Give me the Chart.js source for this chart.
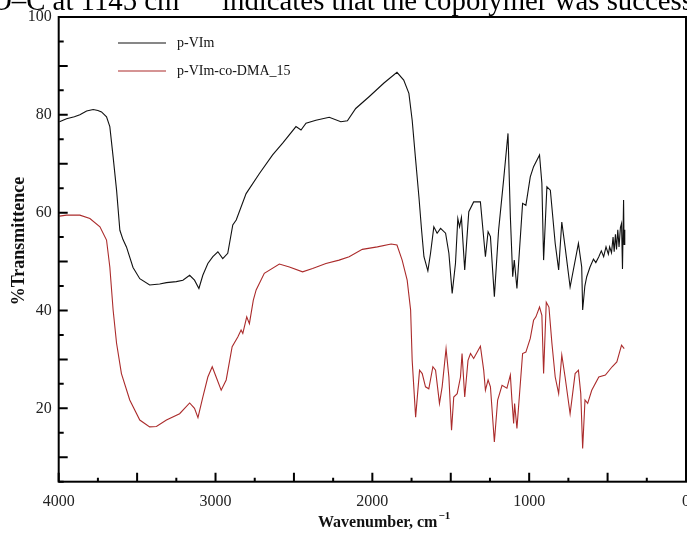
<!DOCTYPE html>
<html>
<head>
<meta charset="utf-8">
<script src="https://cdn.jsdelivr.net/npm/chart.js@4.4.1/dist/chart.umd.min.js"></script>
<style>
  html, body { margin: 0; padding: 0; background: #fff; overflow: hidden; }
  #wrap { width: 687px; height: 534px; overflow: hidden; position: relative; }
  #wrap canvas { position: absolute; left: 0; top: 0; }
</style>
</head>
<body>
<div id="wrap"><canvas id="ftir" width="700" height="534"></canvas></div>
<script>
// FTIR spectra - p-VIm vs p-VIm-co-DMA_15
const seriesNames = ['p-VIm', 'p-VIm-co-DMA_15'];
const seriesColors = ['#111111', '#ab2b2b'];
const xTickLabels = [4000, 3000, 2000, 1000, 0];
const yTickLabels = [20, 40, 60, 80, 100];

// p-VIm (black)
const wnVIm = [3995, 3950, 3900, 3865, 3822, 3780, 3750, 3727, 3695, 3674, 3653, 3631, 3610, 3590, 3568, 3526, 3483, 3420, 3356, 3313,
  3250, 3208, 3165, 3134, 3106, 3081, 3049, 3017, 2985, 2954, 2922, 2890, 2868, 2805, 2720, 2636, 2572, 2487, 2455, 2423,
  2360, 2275, 2201, 2159, 2106, 2021, 1926, 1843, 1800, 1767, 1746, 1724, 1703, 1686, 1671, 1646, 1629, 1608, 1587, 1565,
  1533, 1512, 1491, 1470, 1455, 1444, 1432, 1411, 1385, 1354, 1311, 1279, 1262, 1247, 1222, 1195, 1163, 1135, 1120, 1105,
  1095, 1078, 1042, 1021, 993, 972, 934, 919, 908, 887, 865, 834, 812, 792, 771, 739, 686, 665, 659, 645,
  633, 612, 590, 575, 556, 540, 525, 510, 495, 487, 475, 465, 458, 450, 443, 435, 427, 418, 411, 405,
  398, 395, 392, 389];
const tVIm = [78.6, 79.2, 79.6, 80.0, 80.8, 81.1, 80.9, 80.6, 79.6, 77.6, 71.4, 64.6, 56.4, 54.5, 53.0, 48.8, 46.5, 45.2, 45.4, 45.7,
  45.9, 46.2, 47.2, 46.2, 44.5, 47.2, 49.6, 51.0, 52.0, 50.6, 51.7, 57.5, 58.5, 63.9, 68.0, 71.8, 74.2, 77.6, 76.9, 78.3,
  78.9, 79.5, 78.6, 78.8, 81.3, 83.7, 86.5, 88.7, 87.1, 84.4, 78.9, 70.8, 63.2, 56.4, 51.0, 48.1, 51.7, 57.1, 55.8, 56.8,
  55.8, 51.7, 43.5, 49.6, 58.8, 57.1, 59.0, 48.3, 60.2, 62.2, 62.2, 51.0, 56.1, 55.1, 42.8, 56.4, 66.7, 76.2, 59.2, 46.9,
  50.3, 44.5, 61.9, 61.5, 67.3, 69.4, 71.8, 66.0, 50.3, 65.3, 64.6, 53.7, 48.3, 58.1, 53.0, 44.8, 53.7, 48.9, 40.1, 45.0,
  46.9, 48.9, 50.5, 49.8, 51.0, 52.2, 51.0, 53.0, 51.5, 53.0, 51.8, 55.0, 52.0, 55.6, 52.5, 56.5, 53.0, 57.0, 57.8, 48.5,
  62.6, 53.5, 56.5, 55.8];

// p-VIm-co-DMA_15 (red)
const wnDMA = [3995, 3950, 3865, 3801, 3737, 3695, 3674, 3653, 3631, 3600, 3547, 3483, 3420, 3377, 3313, 3229, 3165, 3134, 3112, 3081,
  3049, 3021, 2996, 2964, 2932, 2894, 2858, 2837, 2826, 2801, 2784, 2759, 2741, 2689, 2593, 2529, 2445, 2381, 2296, 2212,
  2148, 2064, 1968, 1880, 1843, 1810, 1778, 1756, 1746, 1724, 1699, 1682, 1661, 1640, 1614, 1597, 1572, 1555, 1530, 1512,
  1495, 1481, 1459, 1438, 1428, 1411, 1390, 1374, 1354, 1311, 1290, 1279, 1262, 1247, 1222, 1201, 1173, 1142, 1120, 1110,
  1099, 1093, 1078, 1042, 1021, 993, 972, 957, 934, 919, 908, 891, 874, 855, 834, 812, 792, 771, 739, 707,
  686, 671, 659, 644, 627, 601, 556, 514, 471, 441, 411, 394];
const tDMA = [59.3, 59.5, 59.5, 58.8, 57.1, 54.4, 48.9, 40.1, 33.3, 27.1, 21.7, 17.6, 16.2, 16.3, 17.6, 18.9, 21.1, 20.0, 18.1, 22.3,
  26.4, 28.5, 26.4, 23.7, 25.8, 32.6, 34.6, 36.0, 35.3, 38.7, 37.3, 42.1, 44.2, 47.6, 49.5, 48.9, 47.9, 48.6, 49.6, 50.3,
  51.0, 52.5, 53.0, 53.6, 53.4, 50.3, 46.2, 40.1, 29.8, 18.2, 27.8, 27.1, 24.4, 24.0, 28.5, 27.8, 21.0, 24.4, 32.2, 26.4,
  15.5, 22.3, 23.0, 26.4, 31.2, 22.3, 29.8, 31.2, 30.2, 32.7, 27.8, 23.7, 25.8, 24.4, 13.1, 21.7, 24.7, 24.1, 26.8, 21.7,
  16.9, 21.0, 15.9, 31.2, 31.5, 34.3, 38.0, 38.7, 40.7, 39.0, 27.1, 41.7, 40.7, 33.3, 26.4, 23.0, 30.9, 26.4, 18.9, 27.1,
  27.8, 23.0, 11.8, 21.7, 21.0, 23.7, 26.4, 26.8, 28.5, 29.5, 32.9, 32.2];

const toPoints = (xs, ys) => xs.map((v, i) => ({ x: v, y: ys[i] }));
const SERIF = '"Liberation Serif", "Times New Roman", serif';

// --- frame, inward ticks, legend, captions ---
const decor = {
  id: 'decor',
  afterDraw(chart) {
    const { ctx, chartArea: a, scales: { x, y } } = chart;
    ctx.save();
    ctx.strokeStyle = '#000';
    ctx.lineWidth = 2;
    ctx.strokeRect(a.left, a.top, a.right - a.left, a.bottom - a.top);

    ctx.beginPath();
    x.ticks.forEach(t => {
      const px = x.getPixelForValue(t.value);
      const len = t.value % 500 === 0 ? 9 : 4;
      ctx.moveTo(px, a.bottom);
      ctx.lineTo(px, a.bottom - len);
    });
    y.ticks.forEach(t => {
      const py = y.getPixelForValue(t.value);
      const len = t.value % 10 === 0 ? 9 : 5;
      ctx.moveTo(a.left, py);
      ctx.lineTo(a.left + len, py);
    });
    ctx.stroke();

    // legend, top-left inside the plot
    ctx.font = '14px ' + SERIF;
    ctx.textBaseline = 'middle';
    chart.data.datasets.forEach((ds, i) => {
      const ly = 43 + i * 28;
      ctx.strokeStyle = ds.borderColor;
      ctx.lineWidth = 1.2;
      ctx.beginPath();
      ctx.moveTo(118, ly);
      ctx.lineTo(166, ly);
      ctx.stroke();
      ctx.fillStyle = '#111';
      ctx.fillText(ds.label, 177, ly);
    });

    // axis titles
    ctx.fillStyle = '#111';
    ctx.font = 'bold 16px ' + SERIF;
    ctx.textBaseline = 'alphabetic';
    ctx.textAlign = 'left';
    const xt = 'Wavenumber, cm';
    ctx.fillText(xt, 318, 527);
    const w = ctx.measureText(xt).width;
    ctx.font = 'bold 11px ' + SERIF;
    ctx.fillText('\u22121', 318 + w + 1, 519);

    ctx.save();
    ctx.translate(19, 241);
    ctx.rotate(-Math.PI / 2);
    ctx.font = 'bold 18px ' + SERIF;
    ctx.textAlign = 'center';
    ctx.textBaseline = 'middle';
    ctx.fillText('%Transmittence', 0, 0);
    ctx.restore();

    // line of the paper's text cut off above the figure
    ctx.fillStyle = '#000';
    ctx.textAlign = 'left';
    ctx.textBaseline = 'alphabetic';
    ctx.font = '28.8px ' + SERIF;
    const head = 'O\u2013C at 1145 cm';
    ctx.fillText(head, -9, 10);
    const hw = ctx.measureText(head).width;
    ctx.font = '18px ' + SERIF;
    ctx.fillText('\u22121', -9 + hw + 2, -2);
    ctx.font = '28.8px ' + SERIF;
    ctx.fillText('indicates that the copolymer was successfully', 222, 10);
    ctx.restore();
  }
};

new Chart(document.getElementById('ftir'), {
  type: 'line',
  data: {
    datasets: [
      { label: seriesNames[0], data: toPoints(wnVIm, tVIm), borderColor: seriesColors[0], borderWidth: 1.1, pointRadius: 0, tension: 0 },
      { label: seriesNames[1], data: toPoints(wnDMA, tDMA), borderColor: seriesColors[1], borderWidth: 1.1, pointRadius: 0, tension: 0 }
    ]
  },
  options: {
    responsive: false,
    animation: false,
    layout: { padding: { top: 17, right: 12, left: 0, bottom: 0 } },
    plugins: { legend: { display: false }, tooltip: { enabled: false } },
    scales: {
      x: {
        type: 'linear',
        reverse: true,
        min: 0,
        max: 4000,
        afterFit: s => { s.height = 52.3; },
        grid: { display: false, drawTicks: false },
        border: { display: false },
        ticks: {
          stepSize: 250,
          autoSkip: false,
          maxRotation: 0,
          padding: 10,
          color: '#222',
          font: { family: SERIF, size: 16 },
          callback: v => xTickLabels.includes(v) ? String(v) : ''
        }
      },
      y: {
        min: 5,
        max: 100,
        afterFit: s => { s.width = 58.7; },
        grid: { display: false, drawTicks: false },
        border: { display: false },
        ticks: {
          stepSize: 5,
          autoSkip: false,
          padding: 7,
          color: '#222',
          font: { family: SERIF, size: 16 },
          callback: v => yTickLabels.includes(v) ? String(v) : ''
        }
      }
    }
  },
  plugins: [decor]
});
</script>
</body>
</html>
